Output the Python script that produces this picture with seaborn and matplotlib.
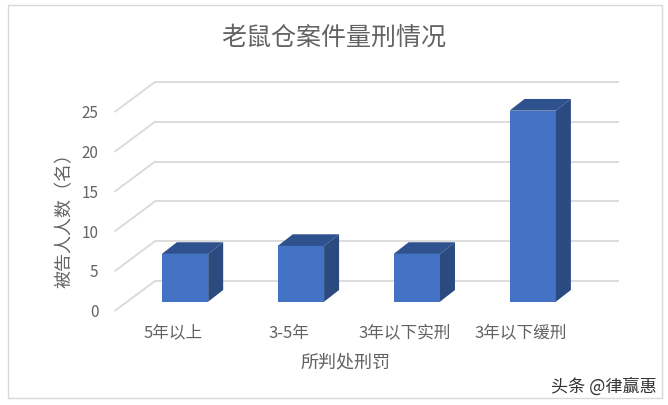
import matplotlib
matplotlib.use("Agg")
import matplotlib.pyplot as plt
import pandas as pd
import seaborn as sns
from matplotlib.patches import Polygon, Rectangle
from matplotlib.transforms import ScaledTranslation

# data
categories = ["5年以上", "3-5年", "3年以下实刑", "3年以下缓刑"]
counts = [6, 7, 6, 24]
y_ticks = [0, 5, 10, 15, 20, 25]

sns.set_theme(style="white")
plt.rcParams["font.family"] = ["Noto Sans CJK SC", "DejaVu Sans"]

W, H = 668, 405
TXT = "#636363"
GRID = "#d9d9d9"
FRONT = "#4472c4"
SIDE = "#2a4a80"
TOP = "#2f528f"

df = pd.DataFrame({"cat": categories, "n": counts})

fig = plt.figure(figsize=(W / 100, H / 100), dpi=100)
# axes placed so the front face of the bars sits on the picture's scale
left, right, bottom, top = 115, 620, 325, 70
ax = fig.add_axes([left / W, 1 - bottom / H, (right - left) / W, (bottom - top) / H])
px_unit = 7.96
y0 = 301.7
step = 115.9
x0 = 185

sns.barplot(data=df, x="cat", y="n", color=FRONT, saturation=1, width=0.4, ax=ax, zorder=3, linewidth=0)
ax.set_xlim((left - x0) / step, (right - x0) / step)
ax.set_ylim((y0 - bottom) / px_unit, (y0 - top) / px_unit)
sns.despine(ax=ax, left=True, bottom=True)
ax.patch.set_alpha(0)

# back wall gridlines and the slanted lines out to the front edge
back_x = [(155 - x0) / step, (619 - x0) / step]
back = ax.transData + ScaledTranslation(0, 20.7 / 100, fig.dpi_scale_trans)
for v in y_ticks:
    ax.plot(back_x, [v, v], color=GRID, lw=1.3, transform=back, zorder=1, clip_on=False,
            solid_capstyle="butt")
    p0 = ax.transData.transform(((115 - x0) / step, v)) + (0, -9)
    p1 = ax.transData.transform(((155 - x0) / step, v)) + (0, 20.7)
    fig.add_artist(plt.Line2D([p0[0] / W, p1[0] / W], [p0[1] / H, p1[1] / H], color=GRID, lw=1.3))

# depth faces built from the bars seaborn drew
DX, DY = 15, 11.7
for bar in list(ax.patches):
    xa = bar.get_x()
    xb = xa + bar.get_width()
    h = bar.get_height()
    ddx = DX / step
    ddy = DY / px_unit
    ax.add_patch(Polygon([(xa, h), (xb, h), (xb + ddx, h + ddy), (xa + ddx, h + ddy)],
                         facecolor=TOP, edgecolor="none", zorder=3))
    ax.add_patch(Polygon([(xb, 0), (xb + ddx, ddy), (xb + ddx, h + ddy), (xb, h)],
                         facecolor=SIDE, edgecolor="none", zorder=3))

# ticks: labels sit by the front edge of the floor, not under the bars
ax.set_yticks(y_ticks)
ax.set_yticklabels([str(v) for v in y_ticks], fontsize=11, color=TXT)
ax.tick_params(axis="y", length=0, pad=12)
for lab in ax.get_yticklabels():
    lab.set_transform(lab.get_transform() + ScaledTranslation(0, -9 / 100, fig.dpi_scale_trans))
ax.set_xticks(range(len(categories)))
ax.set_xticklabels(categories, fontsize=12, color=TXT)
ax.tick_params(axis="x", length=0, pad=12)
for lab in ax.get_xticklabels():
    lab.set_transform(lab.get_transform() + ScaledTranslation(-12 / 100, 17 / 100, fig.dpi_scale_trans))
ax.set_xlabel("")
ax.set_ylabel("")

fig.text(334 / W, 1 - 38 / H, "老鼠仓案件量刑情况", fontsize=18, color=TXT, ha="center", va="center")
fig.text(345 / W, 1 - 362 / H, "所判处刑罚", fontsize=13, color=TXT, ha="center", va="center")
fig.text(65 / W, 1 - 216 / H, "被告人人数（名）", fontsize=13, color=TXT, ha="center", va="center", rotation=90)
fig.text(604 / W, 1 - 387 / H, "头条 @律赢惠", fontsize=12.3, color="#333333", ha="center", va="center")

# outer chart frame
fig.add_artist(Rectangle((8 / W, 1 - 398 / H), 654 / W, 393 / H, transform=fig.transFigure,
                         fill=False, edgecolor="#d9d9d9", lw=1))

fig.savefig("out.png", dpi=100, facecolor="white")
